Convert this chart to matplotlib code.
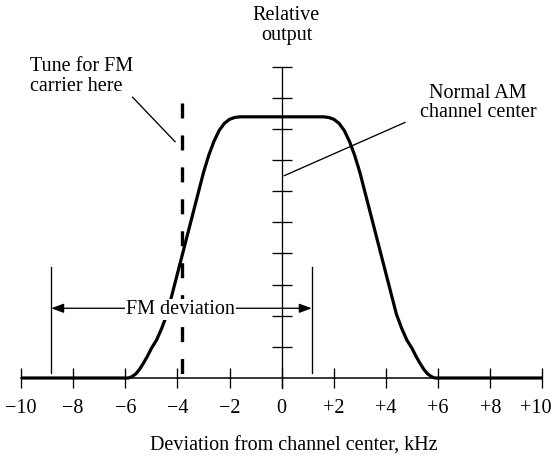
import matplotlib
matplotlib.use('Agg')
import matplotlib.pyplot as plt
from matplotlib.patches import ArrowStyle
from matplotlib.transforms import ScaledTranslation

plt.rcParams['font.family'] = ['Liberation Serif', 'DejaVu Serif']
plt.rcParams['lines.scale_dashes'] = False

# ---------------- data ----------------
left_khz = [-10, -5.88, -5.75, -5.6, -5.45, -5.3, -5.15, -5.0, -4.8, -4.6, -4.4,
            -4.2, -4.0, -3.8, -3.6, -3.4, -3.2, -3.0, -2.8, -2.6, -2.4, -2.2,
            -2.0, -1.8, -1.6]
left_level = [0, 0, 0.04, 0.13, 0.28, 0.48, 0.7, 0.95, 1.22, 1.6, 2.05,
              2.7, 3.35, 4.0, 4.65, 5.3, 5.95, 6.6, 7.15, 7.6, 7.95, 8.18,
              8.31, 8.37, 8.39]
right_khz = [1.6, 1.8, 2.0, 2.2, 2.4, 2.6, 2.8, 3.0, 3.2, 3.4, 3.6, 3.8, 4.0,
             4.2, 4.4, 4.6, 4.8, 5.0, 5.15, 5.3, 5.45, 5.6, 5.75, 5.88, 10]
right_level = [8.39, 8.37, 8.31, 8.18, 7.95, 7.6, 7.15, 6.6, 5.95, 5.3, 4.65,
               4.0, 3.35, 2.7, 2.05, 1.6, 1.22, 0.95, 0.7, 0.48, 0.28, 0.13,
               0.04, 0, 0]

x_ticks = [-10, -8, -6, -4, -2, 0, 2, 4, 6, 8, 10]
x_tick_labels = ['\u221210', '\u22128', '\u22126', '\u22124', '\u22122', '0',
                 '+2', '+4', '+6', '+8', '+10']
y_ticks = [1, 2, 3, 4, 5, 6, 7, 8, 9, 10]

fm_carrier_khz = -3.84
fm_carrier_top = 8.82

fm_dev_low = -8.84
fm_dev_high = 1.15
fm_dev_level = 2.24
fm_dev_marker_bottom = 0.15
fm_dev_marker_top = 3.58

# ---------------- layout ----------------
W, H = 556, 457
PX_PER_KHZ = 26.07
PX_PER_UNIT = 31.13
ZERO_X = 281.7
ZERO_Y_FROM_BOTTOM = 79
XL = (-10.5, 10.5)
YL = (-0.6, 10.6)
left = (ZERO_X + XL[0] * PX_PER_KHZ) / W
bottom = (ZERO_Y_FROM_BOTTOM + YL[0] * PX_PER_UNIT) / H
width = (XL[1] - XL[0]) * PX_PER_KHZ / W
height = (YL[1] - YL[0]) * PX_PER_UNIT / H

FS = 14.5
THIN = 0.95

fig = plt.figure(figsize=(W / 100, H / 100), dpi=100)
ax = fig.add_axes([left, bottom, width, height])
ax.set_xlim(*XL)
ax.set_ylim(*YL)
ax.patch.set_visible(False)

for s in ['top', 'right']:
    ax.spines[s].set_visible(False)
ax.spines['left'].set_position(('data', 0))
ax.spines['bottom'].set_position(('data', 0))
ax.spines['left'].set_bounds(-0.33, 10)
ax.spines['bottom'].set_bounds(-10, 10)
ax.spines['left'].set_linewidth(THIN)
ax.spines['bottom'].set_linewidth(1.1)

ax.set_xticks(x_ticks)
ax.set_xticklabels(x_tick_labels, fontsize=FS)
ax.set_yticks(y_ticks)
ax.set_yticklabels([])
ax.tick_params(axis='x', direction='inout', length=14.4, width=THIN, pad=8)
ax.tick_params(axis='y', direction='inout', length=14.4, width=THIN)
last = ax.get_xticklabels()[-1]
last.set_transform(last.get_transform() + ScaledTranslation(-5 / 72, 0, fig.dpi_scale_trans))

# response curve
ax.plot(left_khz + right_khz, left_level + right_level, color='black', lw=2.3,
        solid_joinstyle='round', solid_capstyle='butt', clip_on=False, zorder=3)

# FM carrier dashed line
ax.plot([fm_carrier_khz, fm_carrier_khz], [fm_carrier_top, 0], color='black',
        lw=2.4, dashes=(10.8, 12.2), dash_capstyle='butt', clip_on=False, zorder=3)

# FM deviation markers and arrow
for xv in (fm_dev_low, fm_dev_high):
    ax.plot([xv, xv], [fm_dev_marker_bottom, fm_dev_marker_top], color='black',
            lw=THIN, clip_on=False, zorder=2)
ax.annotate('', xy=(fm_dev_low, fm_dev_level), xytext=(fm_dev_high, fm_dev_level),
            arrowprops=dict(arrowstyle=ArrowStyle('<|-|>', head_length=0.75, head_width=0.28),
                            mutation_scale=10, color='black', lw=THIN,
                            shrinkA=0, shrinkB=0), zorder=2)
ax.text((fm_dev_low + fm_dev_high) / 2 - 0.05, 2.06, 'FM deviation', fontsize=FS,
        ha='center', va='baseline', zorder=5,
        bbox=dict(boxstyle='square,pad=0.05', fc='white', ec='none'))

# annotations
ax.text(0.18, 11.5, 'Relative', fontsize=FS, ha='center', va='baseline', clip_on=False)
ax.text(0.18, 10.87, 'output', fontsize=FS, ha='center', va='baseline', clip_on=False)

ax.text(-9.66, 9.86, 'Tune for FM', fontsize=FS, ha='left', va='baseline')
ax.text(-9.66, 9.22, 'carrier here', fontsize=FS, ha='left', va='baseline')
ax.plot([-5.72, -4.09], [9.02, 7.59], color='black', lw=THIN, zorder=2)

ax.text(7.53, 8.99, 'Normal AM', fontsize=FS, ha='center', va='baseline')
ax.text(7.53, 8.38, 'channel center', fontsize=FS, ha='center', va='baseline')
ax.plot([0.1, 4.73], [6.5, 8.21], color='black', lw=THIN, zorder=2)

fig.text(293.8 / W, 6 / H, 'Deviation from channel center, kHz', fontsize=FS,
         ha='center', va='baseline')

fig.savefig('out.png', dpi=100)
